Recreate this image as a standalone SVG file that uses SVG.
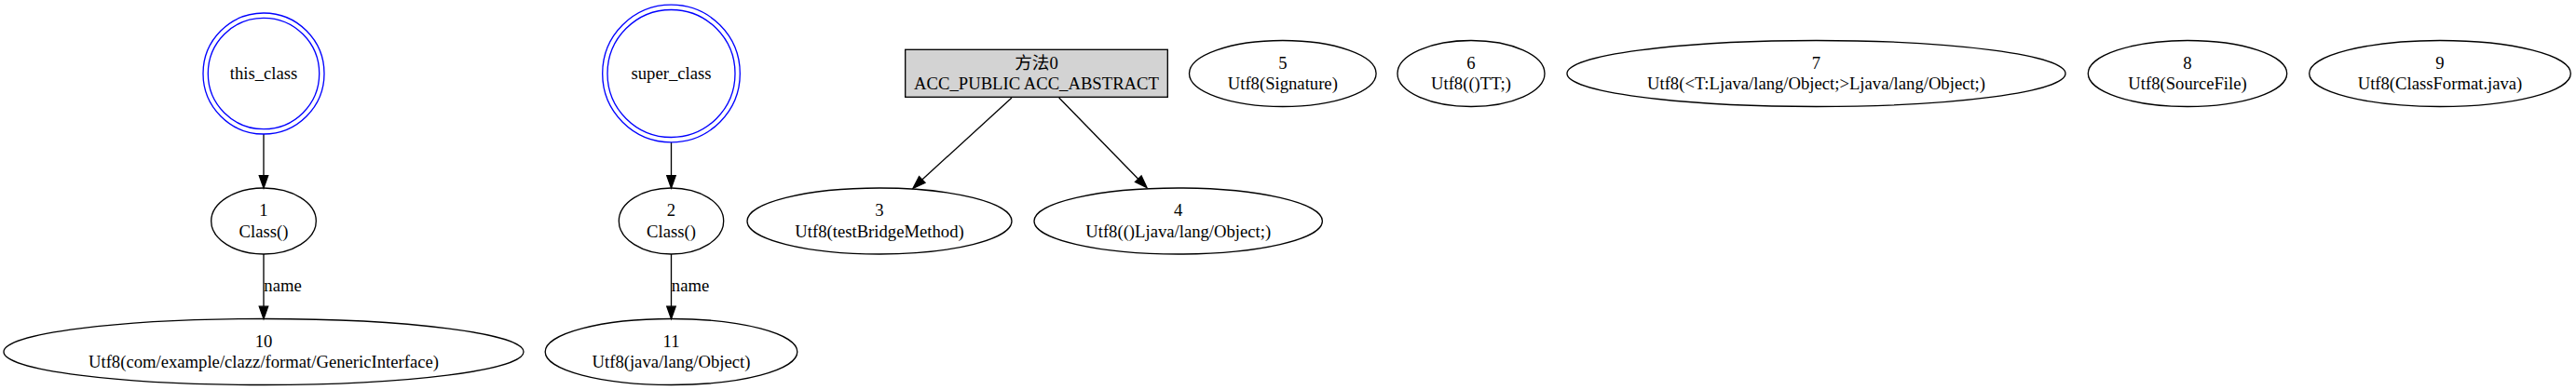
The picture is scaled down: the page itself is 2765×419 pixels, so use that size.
<svg xmlns="http://www.w3.org/2000/svg" width="2765" height="419" viewBox="0 0 2765 419">
<style>
text{font-family:"Liberation Serif","Times New Roman","Noto Sans CJK SC",serif;font-size:18.67px;text-anchor:middle;fill:#000}
.n{fill:none;stroke:#000;stroke-width:1.33}
.d{fill:none;stroke:#0000ff;stroke-width:1.33}
.b{fill:#d3d3d3;stroke:#000;stroke-width:1.33}
.e{fill:none;stroke:#000;stroke-width:1.33}
.a{fill:#000;stroke:#000;stroke-width:1.33}
</style>
<rect width="2765" height="419" fill="#fff"/>
<g id="connectors">
<g id="e_this_1"><path class="e" d="M283,144 L283,188.7"/><polygon class="a" points="278.3,188.7 283,202 287.7,188.7"/></g>
<g id="e_super_2"><path class="e" d="M720.5,153 L720.5,188.7"/><polygon class="a" points="715.8,188.7 720.5,202 725.2,188.7"/></g>
<g id="e_1_10"><path class="e" d="M283,273 L283,329.2"/><polygon class="a" points="278.3,329.2 283,342.5 287.7,329.2"/><text x="303.5" y="313.3">name</text></g>
<g id="e_2_11"><path class="e" d="M720.5,273 L720.5,329.2"/><polygon class="a" points="715.8,329.2 720.5,342.5 725.2,329.2"/><text x="741" y="313.3">name</text></g>
<g id="e_m_3"><path class="e" d="M1086,105 L989.8,193"/><polygon class="a" points="986.6,189.6 980,202.3 993,196.4"/></g>
<g id="e_m_4"><path class="e" d="M1136.7,105 L1221.7,192.2"/><polygon class="a" points="1218.4,195.5 1231,201.7 1225.1,188.9"/></g>
</g>
<g id="this_class"><circle class="d" cx="283" cy="79" r="65"/><circle class="d" cx="283" cy="79" r="59.7"/><text x="283" y="84.6">this_class</text></g>
<g id="super_class"><circle class="d" cx="720.5" cy="79" r="73.8"/><circle class="d" cx="720.5" cy="79" r="68.5"/><text x="720.5" y="84.6">super_class</text></g>
<g id="method0"><rect class="b" x="971.7" y="53.3" width="281.6" height="51"/><text x="1112.5" y="73.8">方法0</text><text x="1112.5" y="96.1">ACC_PUBLIC ACC_ABSTRACT</text></g>
<g id="n5"><ellipse class="n" cx="1376.8" cy="79" rx="100.3" ry="35.5"/><text x="1376.8" y="73.9">5</text><text x="1376.8" y="96.3">Utf8(Signature)</text></g>
<g id="n6"><ellipse class="n" cx="1579" cy="79" rx="79" ry="35.5"/><text x="1579" y="73.9">6</text><text x="1579" y="96.3">Utf8(()TT;)</text></g>
<g id="n7"><ellipse class="n" cx="1949.5" cy="79" rx="267.5" ry="35.5"/><text x="1949.5" y="73.9">7</text><text x="1949.5" y="96.3">Utf8(&lt;T:Ljava/lang/Object;&gt;Ljava/lang/Object;)</text></g>
<g id="n8"><ellipse class="n" cx="2348" cy="79" rx="106.7" ry="35.5"/><text x="2348" y="73.9">8</text><text x="2348" y="96.3">Utf8(SourceFile)</text></g>
<g id="n9"><ellipse class="n" cx="2619" cy="79" rx="140.3" ry="35.5"/><text x="2619" y="73.9">9</text><text x="2619" y="96.3">Utf8(ClassFormat.java)</text></g>
<g id="n1"><ellipse class="n" cx="283" cy="237.5" rx="56.3" ry="35.5"/><text x="283" y="232.4">1</text><text x="283" y="254.8">Class()</text></g>
<g id="n2"><ellipse class="n" cx="720.5" cy="237.5" rx="56.2" ry="35.5"/><text x="720.5" y="232.4">2</text><text x="720.5" y="254.8">Class()</text></g>
<g id="n3"><ellipse class="n" cx="944" cy="237.5" rx="142" ry="35.5"/><text x="944" y="232.4">3</text><text x="944" y="254.8">Utf8(testBridgeMethod)</text></g>
<g id="n4"><ellipse class="n" cx="1264.7" cy="237.5" rx="154.7" ry="35.5"/><text x="1264.7" y="232.4">4</text><text x="1264.7" y="254.8">Utf8(()Ljava/lang/Object;)</text></g>
<g id="n10"><ellipse class="n" cx="283" cy="378" rx="279" ry="35.5"/><text x="283" y="372.9">10</text><text x="283" y="395.3">Utf8(com/example/clazz/format/GenericInterface)</text></g>
<g id="n11"><ellipse class="n" cx="720.5" cy="378" rx="135.3" ry="35.5"/><text x="720.5" y="372.9">11</text><text x="720.5" y="395.3">Utf8(java/lang/Object)</text></g>
</svg>
